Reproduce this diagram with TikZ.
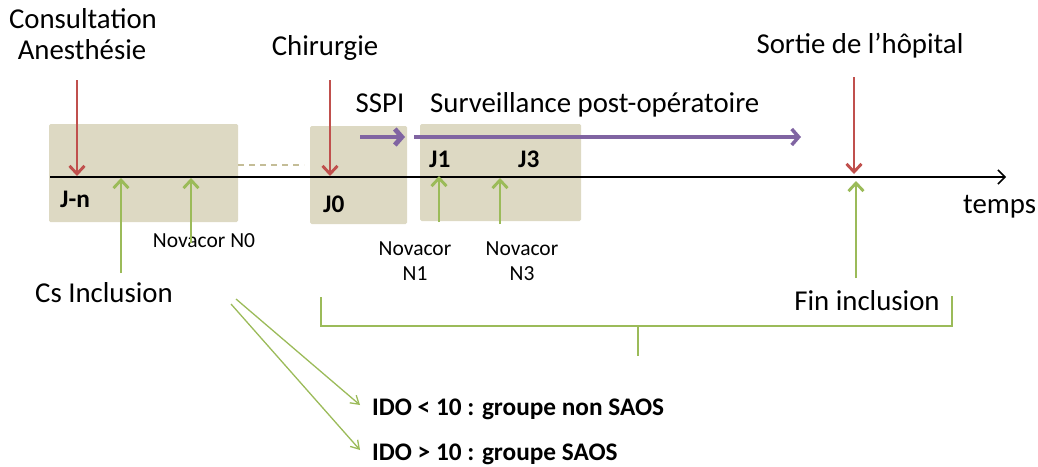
\documentclass[tikz,border=0pt]{standalone}
\usepackage{fontspec}
\setmainfont{Carlito}
\usetikzlibrary{arrows.meta}
\definecolor{boxc}{HTML}{DDD9C3}
\definecolor{redc}{HTML}{C0504D}
\definecolor{greenc}{HTML}{9BBB59}
\definecolor{purplec}{HTML}{8064A2}
\definecolor{dashc}{HTML}{C4BD97}
\tikzset{
  phase/.style={fill=boxc, draw=none, rounded corners=1.5pt},
  redarr/.style={draw=redc, line width=2.9pt, -{Straight Barb[length=8pt,width=15pt]}},
  greenarr/.style={draw=greenc, line width=2.9pt, -{Straight Barb[length=8pt,width=15pt]}},
  thinarr/.style={draw=greenc, line width=1.3pt, -{Straight Barb[length=8pt,width=10pt]}},
  purparr/.style={draw=purplec, line width=4.8pt, -{Straight Barb[length=7pt,width=16pt]}},
  big/.style={font=\fontsize{28.8}{32}\selectfont, inner sep=0pt},
  small/.style={font=\fontsize{21.5}{25}\selectfont, inner sep=0pt, align=center},
  bold/.style={font=\fontsize{25.3}{28}\selectfont\bfseries, inner sep=0pt},
}
\begin{document}
\begin{tikzpicture}[x=1pt,y=-1pt]
\useasboundingbox (0,0) rectangle (1038,466);
% phase boxes
\path[phase] (49,124) rectangle (238,222);
\path[phase] (310,126) rectangle (407,224);
\path[phase] (420,124) rectangle (581,221);
\coordinate (d1) at (238,165);
\coordinate (d2) at (304,165);
\draw[dashc, line width=1.2pt, dash pattern=on 6pt off 5pt] (d1) -- (d2);
% timeline
\coordinate (t0) at (50,177);
\coordinate (t1) at (1006,177);
\draw[line width=1.5pt, -{Straight Barb[length=7pt,width=14pt]}] (t0) -- (t1);
% labels
\node[big, anchor=base] (cons) at (83,28) {Consultation};
\node[big, anchor=base] (anes) at (82,59) {Anesthésie};
\node[big, anchor=base] (chir) at (325,55) {Chirurgie};
\node[big, anchor=base] (sspi) at (380,112) {SSPI};
\node[big, anchor=base west] (surv) at (430,112) {Surveillance post-opératoire};
\node[big, anchor=base] (sortie) at (860,53) {Sortie de l’hôpital};
\node[big, anchor=base west] (temps) at (963,213) {temps};
\node[big, anchor=base] (cs) at (104,302) {Cs Inclusion};
\node[big, anchor=base] (fin) at (867,310) {Fin inclusion};
\node[small, anchor=base] (n0) at (204,247) {Novacor N0};
\node[small, anchor=base] (n1) at (415,280) {Novacor\\N1};
\node[small, anchor=base] (n3) at (522,280) {Novacor\\N3};
\node[bold, anchor=base west] (jn) at (60,207) {J-n};
\node[bold, anchor=base west] (j0) at (323,212) {J0};
\node[bold, anchor=base west] (j1) at (429,167) {J1};
\node[bold, anchor=base west] (j3) at (518,167) {J3};
\node[bold, anchor=base west] (ido1) at (372,415) {IDO < 10 : groupe non SAOS};
\node[bold, anchor=base west] (ido2) at (372,460) {IDO > 10 : groupe SAOS};
% red arrows
\coordinate (r1a) at (77,80);  \coordinate (r1b) at (77,176);
\coordinate (r2a) at (330,80); \coordinate (r2b) at (330,176);
\coordinate (r3a) at (854,77); \coordinate (r3b) at (854,174);
\draw[redarr] (r1a) -- (r1b);
\draw[redarr] (r2a) -- (r2b);
\draw[redarr] (r3a) -- (r3b);
% green arrows
\coordinate (g1a) at (121,273); \coordinate (g1b) at (121,178);
\coordinate (g2a) at (191,243); \coordinate (g2b) at (191,178);
\coordinate (g3a) at (439,222); \coordinate (g3b) at (439,176);
\coordinate (g4a) at (500,224); \coordinate (g4b) at (500,178);
\coordinate (g5a) at (856,278); \coordinate (g5b) at (856,181);
\draw[greenarr] (g1a) -- (g1b);
\draw[greenarr] (g2a) -- (g2b);
\draw[greenarr] (g3a) -- (g3b);
\draw[greenarr] (g4a) -- (g4b);
\draw[greenarr] (g5a) -- (g5b);
% purple arrows
\coordinate (p1a) at (360,137); \coordinate (p1b) at (405,137);
\coordinate (p2a) at (414,137); \coordinate (p2b) at (801,137);
\draw[purparr] (p1a) -- (p1b);
\draw[purparr, line width=3.5pt] (p2a) -- (p2b);
% bracket
\coordinate (b1) at (321,297); \coordinate (b2) at (321,326);
\coordinate (b3) at (952,326); \coordinate (b4) at (952,296);
\coordinate (bm) at (638,326); \coordinate (bt) at (638,356);
\draw[greenc, line width=1.5pt] (b1) -- (b2) -- (b3) -- (b4);
\draw[greenc, line width=1.5pt] (bm) -- (bt);
% split arrows
\coordinate (s1) at (236,299); \coordinate (s2) at (231,304);
\coordinate (e1) at (360,405); \coordinate (e2) at (360,450);
\draw[thinarr] (s1) -- (e1);
\draw[thinarr] (s2) -- (e2);
\end{tikzpicture}
\end{document}
